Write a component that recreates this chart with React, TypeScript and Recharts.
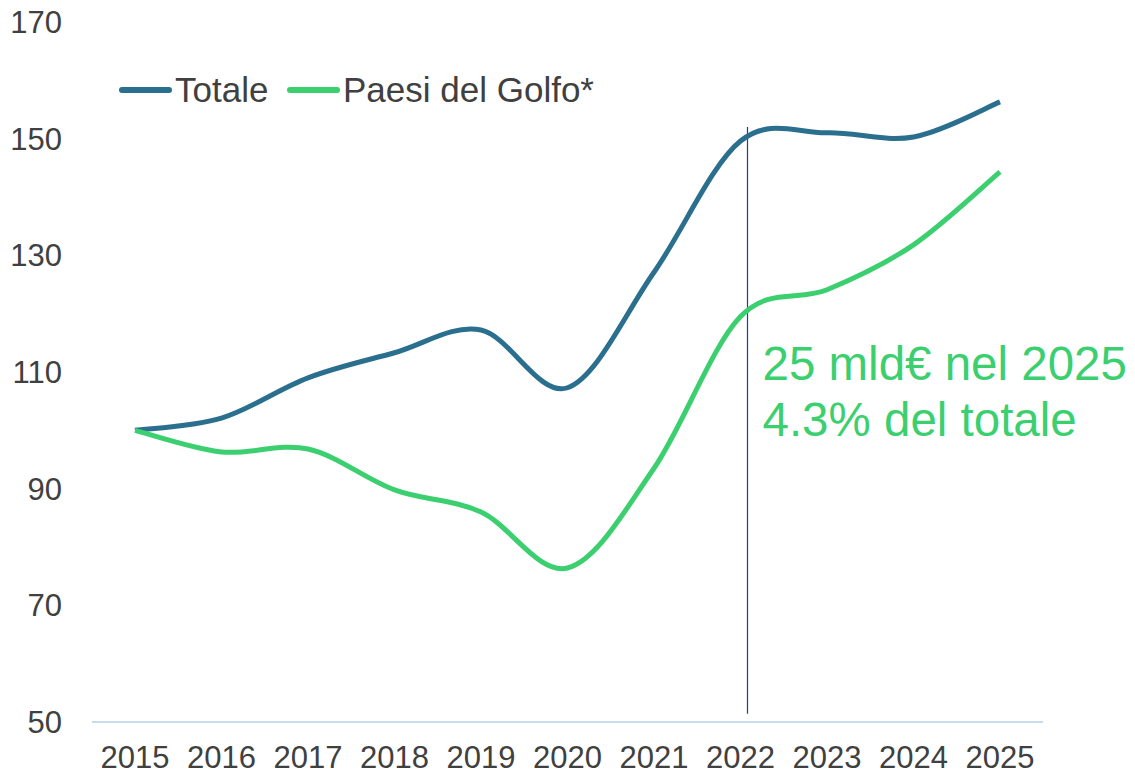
import React from 'react';
import { LineChart, Line, XAxis, YAxis, ReferenceLine } from 'recharts';

const years = ['2015', '2016', '2017', '2018', '2019', '2020', '2021', '2022', '2023', '2024', '2025'];
const totale = [100, 102.1, 109, 113.3, 117.2, 107.3, 127.1, 149.6, 151, 150.3, 156.3];
const golfo = [100, 96.3, 96.8, 89.8, 86, 76.4, 93.5, 119.5, 124.1, 131.8, 144.3];
const yTicks = [50, 70, 90, 110, 130, 150, 170];

const BLUE = '#2b6f8f';
const GREEN = '#3ccf70';
const TEXT = '#404040';
const FONT = '"Liberation Sans", Arial, sans-serif';

const series = [
  { key: 'totale', name: 'Totale', color: BLUE },
  { key: 'golfo', name: 'Paesi del Golfo*', color: GREEN }
];

const data = years.map((year, i) => ({ year, totale: totale[i], golfo: golfo[i] }));

// Excel-style smoothed line (Catmull-Rom through the points)
function smoothCurve(context: any) {
  let pts: [number, number][] = [];
  return {
    areaStart() {},
    areaEnd() {},
    lineStart() {
      pts = [];
    },
    point(x: number, y: number) {
      pts.push([+x, +y]);
    },
    lineEnd() {
      if (!pts.length) return;
      context.moveTo(pts[0][0], pts[0][1]);
      for (let i = 0; i < pts.length - 1; i++) {
        const p0 = pts[i - 1] || pts[i];
        const p1 = pts[i];
        const p2 = pts[i + 1];
        const p3 = pts[i + 2] || pts[i + 1];
        context.bezierCurveTo(
          p1[0] + (p2[0] - p0[0]) / 6,
          p1[1] + (p2[1] - p0[1]) / 6,
          p2[0] - (p3[0] - p1[0]) / 6,
          p2[1] - (p3[1] - p1[1]) / 6,
          p2[0],
          p2[1]
        );
      }
    }
  };
}

const legendOffsets = [119, 287];

function ChartLegend() {
  return (
    <div style={{ position: 'absolute', left: 0, top: 68, width: 700, height: 44, fontFamily: FONT, fontSize: 35, color: TEXT }}>
      {series.map((s, i) => (
        <div key={s.key} style={{ position: 'absolute', left: legendOffsets[i], top: 0, display: 'flex', alignItems: 'center', whiteSpace: 'nowrap', height: 44 }}>
          <span style={{ display: 'inline-block', width: 53, height: 6, borderRadius: 3, background: s.color, marginRight: 3 }} />
          <span>{s.name}</span>
        </div>
      ))}
    </div>
  );
}

function Annotation(props: any) {
  const { viewBox } = props;
  const x = viewBox.x + 22;
  return (
    <text fill={GREEN} fontFamily={FONT} fontSize={47.5}>
      <tspan x={x} y={380}>25 mld€ nel 2025</tspan>
      <tspan x={x} y={436}>4.3% del totale</tspan>
    </text>
  );
}

function ShiftedLine(props: any) {
  const { x1, y1, x2, y2 } = props;
  return <line x1={x1 + 7} y1={y1} x2={x2 + 7} y2={y2} stroke="#1f3c9e" strokeWidth={1.2} />;
}

export default function App() {
  return (
    <div style={{ position: 'absolute', left: 0, top: 0, width: 1135, height: 774, background: '#fff' }}>
      <LineChart width={1135} height={774} data={data} margin={{ top: 22, right: 92, bottom: 0, left: 0 }}>
        <XAxis
          dataKey="year"
          height={52}
          padding={{ left: 43, right: 43 }}
          tickLine={false}
          tickSize={0}
          tickMargin={24}
          axisLine={{ stroke: '#c9dbf1', strokeWidth: 2 }}
          tick={{ fill: TEXT, fontSize: 31, fontFamily: FONT }}
          interval={0}
        />
        <YAxis
          width={92}
          domain={[50, 170]}
          ticks={yTicks}
          axisLine={false}
          tickLine={false}
          tickSize={0}
          tickMargin={30}
          tick={{ fill: TEXT, fontSize: 31, fontFamily: FONT }}
        />
        <ReferenceLine
          segment={[{ x: '2022', y: 152 }, { x: '2022', y: 51.4 }]}
          shape={<ShiftedLine />}
          label={<Annotation />}
        />
        {series.map(s => (
          <Line
            key={s.key}
            dataKey={s.key}
            name={s.name}
            type={smoothCurve as any}
            stroke={s.color}
            strokeWidth={5}
            dot={false}
            activeDot={false}
            isAnimationActive={false}
          />
        ))}
      </LineChart>
      <ChartLegend />
    </div>
  );
}
